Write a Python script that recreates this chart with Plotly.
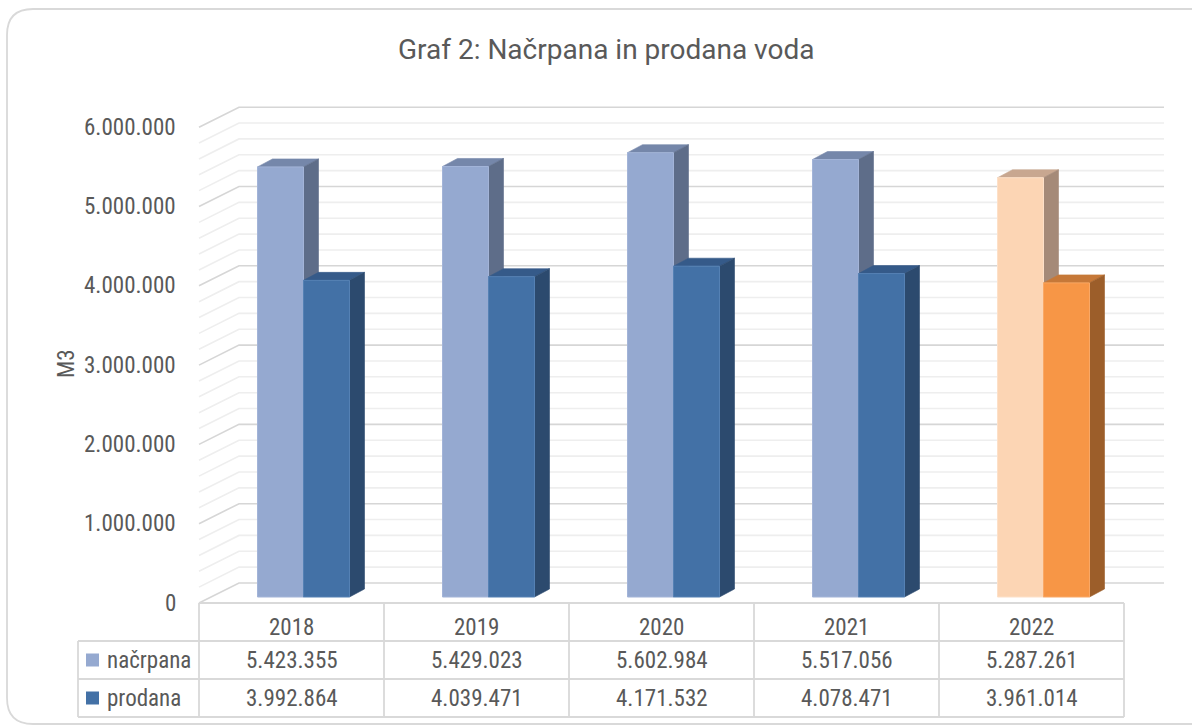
import plotly.graph_objects as go

# ---------------- data ----------------
years = ["2018", "2019", "2020", "2021", "2022"]
nacrpana = [5423355, 5429023, 5602984, 5517056, 5287261]
prodana = [3992864, 4039471, 4171532, 4078471, 3961014]
series_names = ["načrpana", "prodana"]
y_ticks = [0, 1000000, 2000000, 3000000, 4000000, 5000000, 6000000]
minor_step = 200000
title_text = "Graf 2: Načrpana in prodana voda"
y_title = "M3"

# ---------------- styles / geometry ----------------
W, H = 1192, 727
K = 79.3            # pixels per 1 000 000
U = 1e6 / K         # value units per pixel
COLW = 185.0        # category width in px
C0 = 291.5          # px of first category centre (front plane)
BASE_PY = 597       # px row of value 0 in the bar plane
TXT = "#595959"
FONT = "Liberation Sans Narrow, Arial Narrow, Roboto Condensed, DejaVu Sans Condensed, sans-serif"
TITLE_FONT = "Roboto, Liberation Sans, sans-serif"
GRID_MAJOR = "#d6d6d6"
GRID_MINOR = "#eeeeee"
BORDER = "#d9d9d9"

col_normal = {
    "načrpana": dict(front="#95A9D0", top="#7587AA", side="#5E6D89", edge="#A3B4D8"),
    "prodana": dict(front="#4371A6", top="#355A89", side="#2C4A6E", edge="#5581B4"),
}
col_last = {
    "načrpana": dict(front="#FCD5B4", top="#C8A790", side="#A58A78", edge="#FDE0C8"),
    "prodana": dict(front="#F79646", top="#C67838", side="#9C5E2A", edge="#F9A866"),
}


def dxu(px):
    return px / COLW


def pxx(px):
    return px / W


def pyy(py):
    return 1 - py / H


def fmt(v):
    return f"{v:,}".replace(",", ".")


fig = go.Figure()

# ---------------- walls / gridlines ----------------
front_dy = -6 * U
back_dy = 14 * U
back_dx = dxu(40)
x_left, x_right = -0.5, len(years) - 0.5

gx_major, gy_major, gx_minor, gy_minor = [], [], [], []
v = 0
while v <= y_ticks[-1]:
    xs = [x_left, x_left + back_dx, x_right + back_dx, None]
    ys = [v + front_dy, v + back_dy, v + back_dy, None]
    if v % 1000000 == 0:
        gx_major += xs
        gy_major += ys
    else:
        gx_minor += xs
        gy_minor += ys
    v += minor_step

fig.add_trace(go.Scatter(x=gx_minor, y=gy_minor, mode="lines",
                         line=dict(color=GRID_MINOR, width=1.6), hoverinfo="skip"))
fig.add_trace(go.Scatter(x=gx_major, y=gy_major, mode="lines",
                         line=dict(color=GRID_MAJOR, width=1.6), hoverinfo="skip"))

# ---------------- 3D bars ----------------
bw = dxu(46)
bar_dx = dxu(15)
bar_dy = 8 * U
bar_shift = dxu(12)

for i, yr in enumerate(years):
    group_left = i + bar_shift - bw
    for s, (name, vals) in enumerate(zip(series_names, [nacrpana, prodana])):
        val = vals[i]
        c = (col_last if i == len(years) - 1 else col_normal)[name]
        xl = group_left + s * bw
        xr = xl + bw
        # top face
        fig.add_trace(go.Scatter(
            x=[xl, xl + bar_dx, xr + bar_dx, xr, xl],
            y=[val, val + bar_dy, val + bar_dy, val, val],
            fill="toself", fillcolor=c["top"], mode="lines",
            line=dict(color=c["top"], width=0.6), hoverinfo="skip"))
        # side face
        fig.add_trace(go.Scatter(
            x=[xr, xr + bar_dx, xr + bar_dx, xr, xr],
            y=[0, bar_dy, val + bar_dy, val, 0],
            fill="toself", fillcolor=c["side"], mode="lines",
            line=dict(color=c["side"], width=0.6), hoverinfo="skip"))
        # front face
        fig.add_trace(go.Scatter(
            x=[xl, xr, xr, xl, xl],
            y=[0, 0, val, val, 0],
            fill="toself", fillcolor=c["front"], mode="lines",
            line=dict(color=c["edge"], width=1), hoverinfo="skip",
            name=name))

# ---------------- annotations ----------------
ann = []
ann.append(dict(text=title_text, x=pxx(606), y=pyy(50), xref="paper", yref="paper",
                showarrow=False, font=dict(family=TITLE_FONT, size=28, color=TXT),
                xanchor="center", yanchor="middle"))
for t in y_ticks:
    ann.append(dict(text=fmt(t), x=pxx(178), y=t + front_dy, xref="paper", yref="y",
                    showarrow=False, font=dict(family=FONT, size=23, color=TXT),
                    xanchor="right", yanchor="middle"))
ann.append(dict(text=y_title, x=pxx(66), y=pyy(364), xref="paper", yref="paper",
                showarrow=False, textangle=-90, font=dict(family=FONT, size=23, color=TXT),
                xanchor="center", yanchor="middle"))

# ---------------- data table ----------------
tbl_left, tbl_lab, tbl_top = 78, 199, 603
row_bot = [641, 679, 717]
tbl_right = tbl_lab + COLW * len(years)
shapes = []
ln = dict(color=BORDER, width=1.8)
shapes.append(dict(type="line", xref="paper", yref="paper", x0=pxx(tbl_lab), x1=pxx(tbl_right),
                   y0=pyy(tbl_top), y1=pyy(tbl_top), line=ln))
for rb in row_bot:
    shapes.append(dict(type="line", xref="paper", yref="paper", x0=pxx(tbl_left), x1=pxx(tbl_right),
                       y0=pyy(rb), y1=pyy(rb), line=ln))
shapes.append(dict(type="line", xref="paper", yref="paper", x0=pxx(tbl_left), x1=pxx(tbl_left),
                   y0=pyy(row_bot[0]), y1=pyy(row_bot[-1]), line=ln))
for j in range(len(years) + 1):
    xx = tbl_lab + COLW * j
    shapes.append(dict(type="line", xref="paper", yref="paper", x0=pxx(xx), x1=pxx(xx),
                       y0=pyy(tbl_top), y1=pyy(row_bot[-1]), line=ln))

row_centers = [627, 660, 698]
for i, yr in enumerate(years):
    ann.append(dict(text=yr, x=i, y=pyy(row_centers[0]), xref="x", yref="paper",
                    showarrow=False, font=dict(family=FONT, size=23, color=TXT),
                    xanchor="center", yanchor="middle"))
    for r, vals in enumerate([nacrpana, prodana]):
        ann.append(dict(text=fmt(vals[i]), x=i, y=pyy(row_centers[r + 1]), xref="x", yref="paper",
                        showarrow=False, font=dict(family=FONT, size=23, color=TXT),
                        xanchor="center", yanchor="middle"))

for r, name in enumerate(series_names):
    cy = row_centers[r + 1]
    shapes.append(dict(type="rect", xref="paper", yref="paper",
                       x0=pxx(86), x1=pxx(99), y0=pyy(cy - 6.5), y1=pyy(cy + 6.5),
                       fillcolor=col_normal[name]["front"], line=dict(width=0)))
    ann.append(dict(text=name, x=pxx(105), y=pyy(cy), xref="paper", yref="paper",
                    showarrow=False, font=dict(family=FONT, size=23, color=TXT),
                    xanchor="left", yanchor="middle"))

# ---------------- outer rounded frame ----------------
fx0, fy0, fx1, fy1, rr = 7, 9, 1215, 724, 26
path = (f"M {pxx(fx1)},{pyy(fy0)} L {pxx(fx0 + rr)},{pyy(fy0)} "
        f"Q {pxx(fx0)},{pyy(fy0)} {pxx(fx0)},{pyy(fy0 + rr)} "
        f"L {pxx(fx0)},{pyy(fy1 - rr)} Q {pxx(fx0)},{pyy(fy1)} {pxx(fx0 + rr)},{pyy(fy1)} "
        f"L {pxx(fx1)},{pyy(fy1)}")
shapes.append(dict(type="path", xref="paper", yref="paper", path=path,
                   line=dict(color=BORDER, width=1.8)))

fig.update_layout(
    width=W, height=H,
    margin=dict(l=0, r=0, t=0, b=0),
    paper_bgcolor="white", plot_bgcolor="white",
    showlegend=False, hovermode=False,
    xaxis=dict(range=[(0 - C0) / COLW, (W - C0) / COLW], visible=False, fixedrange=True),
    yaxis=dict(range=[-(H - BASE_PY) * U, BASE_PY * U], visible=False, fixedrange=True),
    annotations=ann, shapes=shapes,
)

fig.write_html(
    "out.html",
    config={"displayModeBar": False},
    post_script="document.body.style.margin='0';document.body.style.overflow='hidden';",
)
